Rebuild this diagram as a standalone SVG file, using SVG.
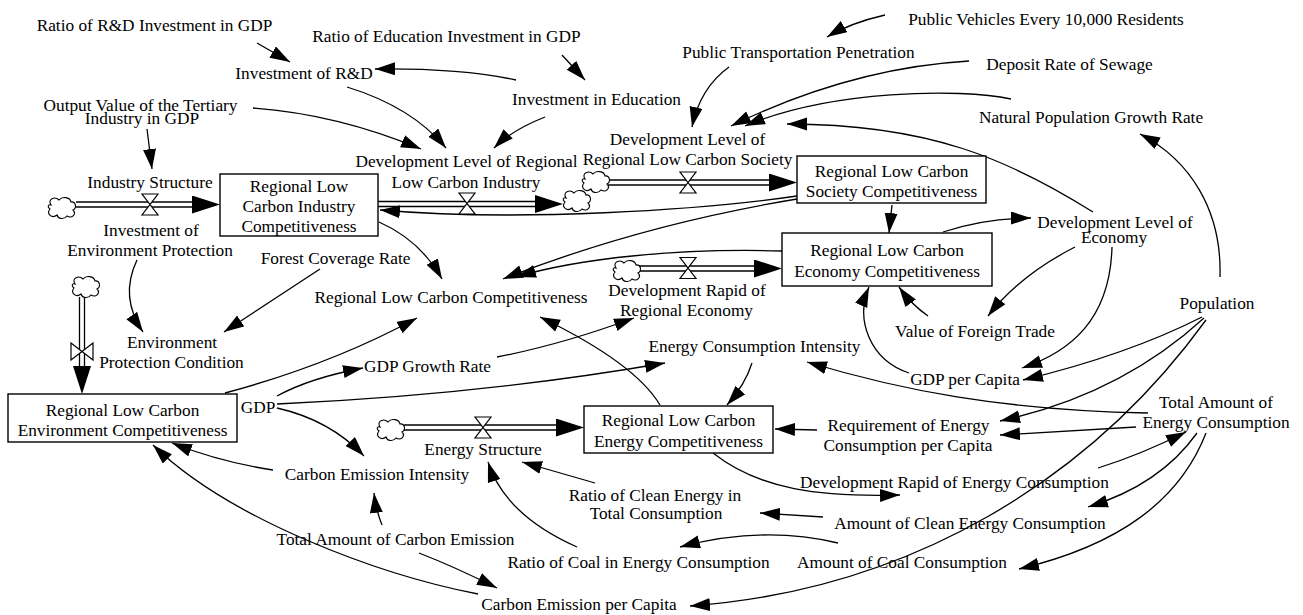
<svg xmlns="http://www.w3.org/2000/svg" width="1303" height="615" viewBox="0 0 1303 615">
  <style>
    .t { font-family: "Liberation Serif", "Times New Roman", serif; font-size: 17.3px; text-anchor: middle; fill: #000; }
    .box { fill: #fff; stroke: #000; stroke-width: 1.4; }
    .link { fill: none; stroke: #000; stroke-width: 1.3; marker-end: url(#arr); }
    .pipe { fill: none; stroke: #000; stroke-width: 1.3; }
    .head { fill: none; stroke: none; marker-end: url(#flowArr); }
    .valve { fill: #fff; stroke: #000; stroke-width: 1.2; }
    .cloud { fill: #fff; stroke: #000; stroke-width: 1.1; }
  </style>
  <defs>
    <marker id="arr" markerUnits="userSpaceOnUse" markerWidth="22" markerHeight="14" refX="20" refY="6.5" orient="auto">
      <path d="M0,0 L20,6.5 L0,13 Z" fill="#000"/>
    </marker>
    <marker id="flowArr" markerUnits="userSpaceOnUse" markerWidth="30" markerHeight="20" refX="28" refY="9" orient="auto">
      <path d="M0,0 L28,9 L0,18 Z" fill="#000"/>
    </marker>
    <path id="cloud" class="cloud" d="M-11,-3 C-15,-9 -7,-12 -3,-8 C0,-12 8,-11 9,-6 C14,-7 15,0 11,2 C15,6 10,11 5,8 C2,12 -4,11 -5,7 C-10,11 -16,6 -12,1 C-15,-1 -14,-4 -11,-3 Z"/>
    <path id="valveH" class="valve" d="M-8,-10.5 L8,-10.5 L-8,10.5 L8,10.5 Z"/>
    <path id="valveV" class="valve" d="M-11,-8.5 L-11,8.5 L11,-8.5 L11,8.5 Z"/>
  </defs>

  <rect width="1303" height="615" fill="#fff"/>

  <!-- information links -->
  <g id="connectors">
    <path class="link" d="M257,43 L290,62"/>
    <path class="link" d="M516,80 Q460,68 375,69"/>
    <path class="link" d="M562,55 L585,80"/>
    <path class="link" d="M347,87 Q412,107 446,148"/>
    <path class="link" d="M253,108 Q337,114 421,149"/>
    <path class="link" d="M545,117 Q512,130 494,148"/>
    <path class="link" d="M147,129 L152,169"/>
    <path class="link" d="M885,15 Q850,23 827,37"/>
    <path class="link" d="M729,67 Q700,88 692,127"/>
    <path class="link" d="M969,61 Q850,68 731,126"/>
    <path class="link" d="M1011,99 C960,88 830,90 745,126"/>
    <path class="link" d="M1093,212 C1010,160 930,124 787,124"/>
    <path class="link" d="M1220,277 C1222,210 1190,160 1140,134"/>
    <path class="link" d="M892,205 L889,233"/>
    <path class="link" d="M943,232 Q985,218 1031,218"/>
    <path class="link" d="M1075,247 Q1020,275 988,316"/>
    <path class="link" d="M1112,247 C1110,320 1070,352 1022,368"/>
    <path class="link" d="M928,316 Q912,305 899,287"/>
    <path class="link" d="M909,373 C870,360 855,320 869,287"/>
    <path class="link" d="M1202,317 Q1127,355 1023,380"/>
    <path class="link" d="M1204,318 Q1120,395 1000,421"/>
    <path class="link" d="M1206,320 C1090,480 910,590 690,606"/>
    <path class="link" d="M660,405 Q635,363 540,317"/>
    <path class="link" d="M497,357 Q560,345 634,318"/>
    <path class="link" d="M277,396 Q310,378 363,368"/>
    <path class="link" d="M277,404 Q480,395 665,363"/>
    <path class="link" d="M225,393 Q330,365 417,318"/>
    <path class="link" d="M277,408 Q330,420 364,456"/>
    <path class="link" d="M273,470 Q220,462 172,443"/>
    <path class="link" d="M382,525 Q376,510 374,493"/>
    <path class="link" d="M478,594 C380,575 230,520 153,445"/>
    <path class="link" d="M419,553 Q455,567 497,588"/>
    <path class="link" d="M577,547 Q505,515 488,462"/>
    <path class="link" d="M595,483 L522,462"/>
    <path class="link" d="M823,517 L760,513"/>
    <path class="link" d="M838,543 Q763,525 680,547"/>
    <path class="link" d="M713,453 C760,490 820,497 900,495"/>
    <path class="link" d="M1098,468 Q1140,455 1186,432"/>
    <path class="link" d="M1197,433 Q1160,485 1088,507"/>
    <path class="link" d="M1206,433 C1180,500 1120,545 1019,569"/>
    <path class="link" d="M1136,427 Q1080,430 1000,435"/>
    <path class="link" d="M1148,413 C1000,410 900,390 807,362"/>
    <path class="link" d="M817,430 L775,429"/>
    <path class="link" d="M752,363 Q745,385 727,405"/>
    <path class="link" d="M379,222 Q420,240 442,279"/>
    <path class="link" d="M320,269 Q280,295 224,332"/>
    <path class="link" d="M137,260 C125,285 128,310 143,332"/>
    <path class="link" d="M797,196 C700,210 520,222 380,210"/>
    <path class="link" d="M797,199 Q640,225 503,279"/>
    <path class="link" d="M782,251 C680,248 580,258 516,277"/>
  </g>

  <!-- material flows: pipes, valves, sources and sinks -->
  <g id="flow-industry-in">
    <line class="pipe" x1="76" y1="202" x2="196" y2="202"/>
    <line class="pipe" x1="76" y1="207" x2="196" y2="207"/>
    <path class="head" d="M190,204.5 L220,204.5"/>
    <use href="#cloud" x="62" y="208"/>
    <use href="#valveH" x="150" y="204.5"/>
  </g>
  <g id="flow-industry-out">
    <line class="pipe" x1="378" y1="201.5" x2="540" y2="201.5"/>
    <line class="pipe" x1="378" y1="206.5" x2="540" y2="206.5"/>
    <path class="head" d="M530,204 L563,204"/>
    <use href="#cloud" x="577" y="201"/>
    <use href="#valveH" x="467" y="203.5"/>
  </g>
  <g id="flow-society-in">
    <line class="pipe" x1="608" y1="180" x2="773" y2="180"/>
    <line class="pipe" x1="608" y1="185" x2="773" y2="185"/>
    <path class="head" d="M765,182.5 L797,182.5"/>
    <use href="#cloud" x="596" y="182"/>
    <use href="#valveH" x="688" y="182.5"/>
  </g>
  <g id="flow-economy-in">
    <line class="pipe" x1="639" y1="266" x2="758" y2="266"/>
    <line class="pipe" x1="639" y1="271" x2="758" y2="271"/>
    <path class="head" d="M750,268.5 L782,268.5"/>
    <use href="#cloud" x="627" y="271"/>
    <use href="#valveH" x="688" y="268"/>
  </g>
  <g id="flow-environment-in">
    <line class="pipe" x1="79.5" y1="297" x2="79.5" y2="368"/>
    <line class="pipe" x1="84.5" y1="297" x2="84.5" y2="368"/>
    <path class="head" d="M82,360 L82,394"/>
    <use href="#cloud" x="86" y="287"/>
    <use href="#valveV" x="82" y="351.5"/>
  </g>
  <g id="flow-energy-in">
    <line class="pipe" x1="404" y1="425" x2="560" y2="425"/>
    <line class="pipe" x1="404" y1="430" x2="560" y2="430"/>
    <path class="head" d="M552,427.5 L584,427.5"/>
    <use href="#cloud" x="391" y="430"/>
    <use href="#valveH" x="483" y="427.5"/>
  </g>

  <!-- stocks -->
  <g id="stock-industry">
    <rect class="box" x="220" y="174" width="158" height="62"/>
    <text class="t" x="299" y="192">Regional Low</text>
    <text class="t" x="299" y="212">Carbon Industry</text>
    <text class="t" x="299" y="232">Competitiveness</text>
  </g>
  <g id="stock-society">
    <rect class="box" x="797" y="156" width="189" height="47"/>
    <text class="t" x="891.5" y="177">Regional Low Carbon</text>
    <text class="t" x="891.5" y="197">Society Competitiveness</text>
  </g>
  <g id="stock-economy">
    <rect class="box" x="782" y="233" width="210" height="53"/>
    <text class="t" x="887" y="256">Regional Low Carbon</text>
    <text class="t" x="887" y="277">Economy Competitiveness</text>
  </g>
  <g id="stock-environment">
    <rect class="box" x="8" y="394" width="229" height="48"/>
    <text class="t" x="122.5" y="416">Regional Low Carbon</text>
    <text class="t" x="122.5" y="436">Environment Competitiveness</text>
  </g>
  <g id="stock-energy">
    <rect class="box" x="584" y="406" width="189" height="47"/>
    <text class="t" x="678.5" y="426">Regional Low Carbon</text>
    <text class="t" x="678.5" y="447">Energy Competitiveness</text>
  </g>

  <!-- rates and auxiliaries -->
  <g id="ratio-rd"><text class="t" x="154.5" y="31">Ratio of R&amp;D Investment in GDP</text></g>
  <g id="ratio-education"><text class="t" x="446.5" y="42">Ratio of Education Investment in GDP</text></g>
  <g id="investment-rd"><text class="t" x="304" y="79">Investment of R&amp;D</text></g>
  <g id="tertiary-output">
    <text class="t" x="140.5" y="111">Output Value of the Tertiary</text>
    <text class="t" x="142" y="124">Industry in GDP</text>
  </g>
  <g id="industry-structure"><text class="t" x="150" y="188">Industry Structure</text></g>
  <g id="investment-education"><text class="t" x="596.5" y="105">Investment in Education</text></g>
  <g id="public-transport"><text class="t" x="798.5" y="58">Public Transportation Penetration</text></g>
  <g id="public-vehicles"><text class="t" x="1046" y="25">Public Vehicles Every 10,000 Residents</text></g>
  <g id="sewage"><text class="t" x="1069.5" y="70">Deposit Rate of Sewage</text></g>
  <g id="population-growth"><text class="t" x="1091" y="123">Natural Population Growth Rate</text></g>
  <g id="dev-industry">
    <text class="t" x="466.5" y="167">Development Level of Regional</text>
    <text class="t" x="466" y="188">Low Carbon Industry</text>
  </g>
  <g id="dev-society">
    <text class="t" x="687.5" y="145">Development Level of</text>
    <text class="t" x="687.5" y="165">Regional Low Carbon Society</text>
  </g>
  <g id="env-investment">
    <text class="t" x="151" y="236">Investment of</text>
    <text class="t" x="150" y="256">Environment Protection</text>
  </g>
  <g id="forest"><text class="t" x="335.5" y="264">Forest Coverage Rate</text></g>
  <g id="competitiveness"><text class="t" x="451" y="303">Regional Low Carbon Competitiveness</text></g>
  <g id="dev-rapid-economy">
    <text class="t" x="687" y="296">Development Rapid of</text>
    <text class="t" x="686.5" y="316">Regional Economy</text>
  </g>
  <g id="dev-economy">
    <text class="t" x="1115" y="228">Development Level of</text>
    <text class="t" x="1114" y="243">Economy</text>
  </g>
  <g id="env-condition">
    <text class="t" x="172" y="348">Environment</text>
    <text class="t" x="171.5" y="368">Protection Condition</text>
  </g>
  <g id="gdp-growth"><text class="t" x="427.5" y="372">GDP Growth Rate</text></g>
  <g id="gdp"><text class="t" x="258" y="413">GDP</text></g>
  <g id="energy-intensity"><text class="t" x="754.5" y="352">Energy Consumption Intensity</text></g>
  <g id="foreign-trade"><text class="t" x="975" y="337">Value of Foreign Trade</text></g>
  <g id="gdp-per-capita"><text class="t" x="965" y="385">GDP per Capita</text></g>
  <g id="population"><text class="t" x="1217" y="309">Population</text></g>
  <g id="total-energy">
    <text class="t" x="1216" y="408">Total Amount of</text>
    <text class="t" x="1216" y="428">Energy Consumption</text>
  </g>
  <g id="energy-requirement">
    <text class="t" x="908.5" y="431">Requirement of Energy</text>
    <text class="t" x="908" y="451">Consumption per Capita</text>
  </g>
  <g id="energy-structure"><text class="t" x="483" y="455">Energy Structure</text></g>
  <g id="carbon-intensity"><text class="t" x="377" y="480">Carbon Emission Intensity</text></g>
  <g id="dev-rapid-energy"><text class="t" x="954.5" y="488">Development Rapid of Energy Consumption</text></g>
  <g id="clean-ratio">
    <text class="t" x="655" y="501">Ratio of Clean Energy in</text>
    <text class="t" x="656" y="519">Total Consumption</text>
  </g>
  <g id="clean-amount"><text class="t" x="970" y="529">Amount of Clean Energy Consumption</text></g>
  <g id="total-carbon"><text class="t" x="395.5" y="545">Total Amount of Carbon Emission</text></g>
  <g id="coal-ratio"><text class="t" x="638.5" y="568">Ratio of Coal in Energy Consumption</text></g>
  <g id="coal-amount"><text class="t" x="902" y="568">Amount of Coal Consumption</text></g>
  <g id="carbon-per-capita"><text class="t" x="579" y="610">Carbon Emission per Capita</text></g>
</svg>
